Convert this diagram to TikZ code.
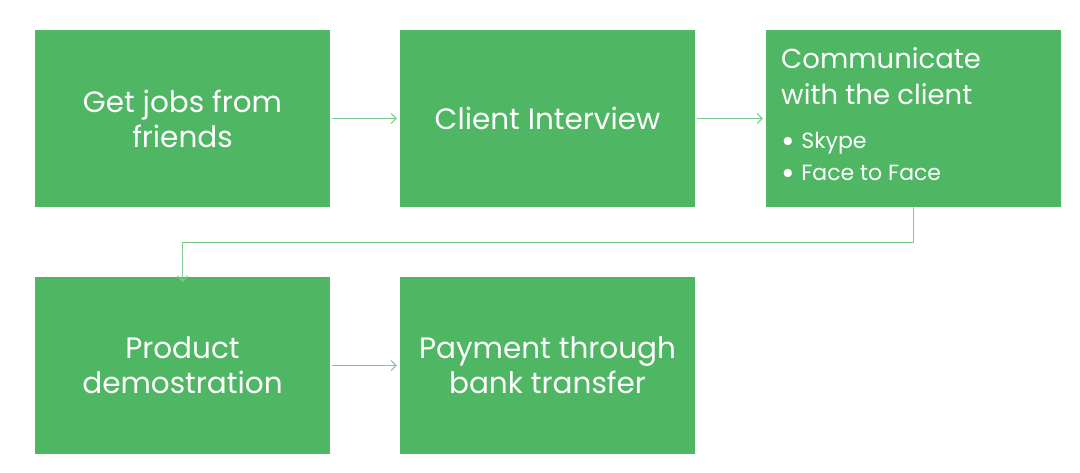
\documentclass[tikz,border=0pt]{standalone}
\usepackage{fontspec}
\setmainfont{Poppins}
\usetikzlibrary{arrows.meta,positioning}
\definecolor{boxgreen}{HTML}{4FB663}
\definecolor{linegreen}{HTML}{7CCB88}
\tikzset{
  stepbox/.style={fill=boxgreen, draw=none, minimum width=295pt, minimum height=177pt, inner sep=0pt, text=white, align=center, font=\fontsize{29.5}{35}\selectfont},
  conn/.style={draw=linegreen, line width=1pt, -{Straight Barb[length=5pt,width=10pt]}},
}
\newcommand{\bigbul}{\raisebox{-0.17em}{\scalebox{1.5}{\textbullet}}\hspace{0.3em}}
\begin{document}
\begin{tikzpicture}[x=1pt,y=-1pt]
\useasboundingbox (0,0) rectangle (1080,472);
\node[stepbox] (a) at (182.5,118.5) {Get jobs from\\friends};
\node[stepbox] (b) at (547.5,118.5) {Client Interview};
\node[stepbox] (c) at (913.5,118.5) {};
\node[stepbox] (d) at (182.5,365.5) {Product\\demostration};
\node[stepbox] (e) at (547.5,365.5) {Payment through\\bank transfer};
\node[anchor=north west, text=white, align=left, inner sep=0pt, font=\fontsize{27.5}{36}\selectfont] (ct) at (781,47) {Communicate\\with the client};
\node[anchor=north west, text=white, align=left, inner sep=0pt, font=\fontsize{22}{32}\selectfont] (cl) at (781,132) {\bigbul Skype\\\bigbul Face to Face};
\draw[conn] ([xshift=2pt]a.east) -- ([xshift=-3pt]b.west);
\draw[conn] ([xshift=2pt]b.east) -- ([xshift=-3pt]c.west);
\draw[conn] (c.south) -- ++(0,35) -| ([yshift=-5pt]d.north);
\draw[conn] ([xshift=2pt]d.east) -- ([xshift=-3pt]e.west);
\end{tikzpicture}
\end{document}
